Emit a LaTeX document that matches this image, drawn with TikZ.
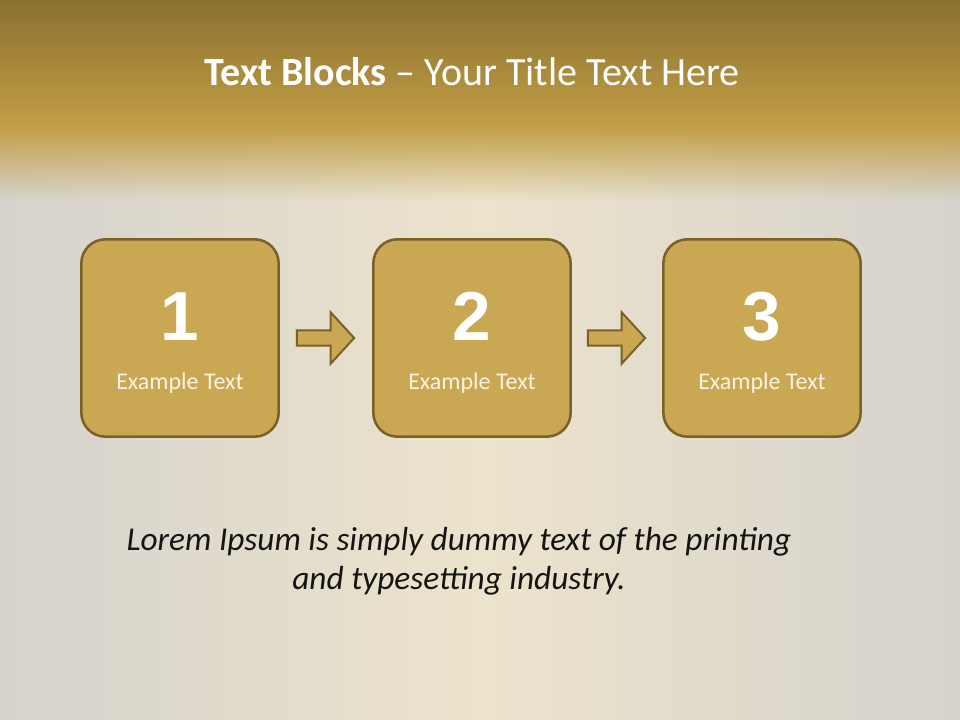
\documentclass[tikz,border=0pt]{standalone}
\usepackage{fontspec}
\setmainfont{Carlito}
\newfontfamily\digitfont{Liberation Sans}
\usepackage{xcolor}
\usepackage{tikz}
\usetikzlibrary{positioning,calc,shapes.arrows,fadings}
\definecolor{bandtop}{HTML}{8B7131}
\definecolor{bandlow}{HTML}{C29E45}
\definecolor{paper}{HTML}{ECE3CC}
\definecolor{paperedge}{HTML}{D6D3CD}
\definecolor{gold}{HTML}{C9A753}
\definecolor{goldline}{HTML}{7A6128}
\definecolor{cream}{HTML}{FAF3E2}
\definecolor{ink}{HTML}{141414}
\tikzset{
  block/.style={
    draw=goldline, line width=1.9pt, fill=gold, rounded corners=18pt,
    minimum width=148pt, minimum height=148pt, inner sep=0pt},
  digit/.style={font=\digitfont\bfseries\fontsize{52pt}{52pt}\selectfont,
    text=white, inner sep=0pt, anchor=base},
  caption/.style={font=\fontsize{18pt}{21pt}\selectfont, text=cream,
    inner sep=0pt, anchor=base},
  flow/.style={
    single arrow, draw=goldline, line width=1.5pt, fill=gold,
    minimum height=43pt, minimum width=37pt, single arrow head extend=13.5pt,
    single arrow tip angle=95, inner sep=5pt, xshift=-3pt},
  title/.style={font=\fontsize{30pt}{34pt}\selectfont, text=white,
    inner sep=0pt, anchor=base},
  note/.style={font=\fontsize{25pt}{29pt}\selectfont\itshape, text=ink,
    align=center, inner sep=0pt},
}

\begin{document}
\begin{tikzpicture}[x=0.75pt, y=-0.75pt]

  % slide background
  \useasboundingbox (0,0) rectangle (960,720);
  \shade[left color=paperedge, right color=paperedge, middle color=paper]
    (0,127) rectangle (960,720);
  \fill[bandlow, path fading=south] (0,126) rectangle (960,200);
  \shade[top color=bandtop, bottom color=bandlow] (0,0) rectangle (960,127);

  \node[title] (head) at (472,86) {\textbf{Text Blocks} -- Your Title Text Here};

  \foreach \n/\x in {1/180,2/472,3/762}{
    \node[block] (b\n) at (\x,338) {};
    \node[digit] (d\n) at (\x,340) {\n};
    \node[caption] (t\n) at (\x,389) {Example Text};
  }

  \foreach \a/\b in {1/2,2/3}
    \node[flow] (a\a) at ($(b\a.east)!0.5!(b\b.west)$) {};

  \node[note] (lorem) at (459,561)
    {Lorem Ipsum is simply dummy text of the printing\\
     and typesetting industry.};

\end{tikzpicture}
\end{document}
